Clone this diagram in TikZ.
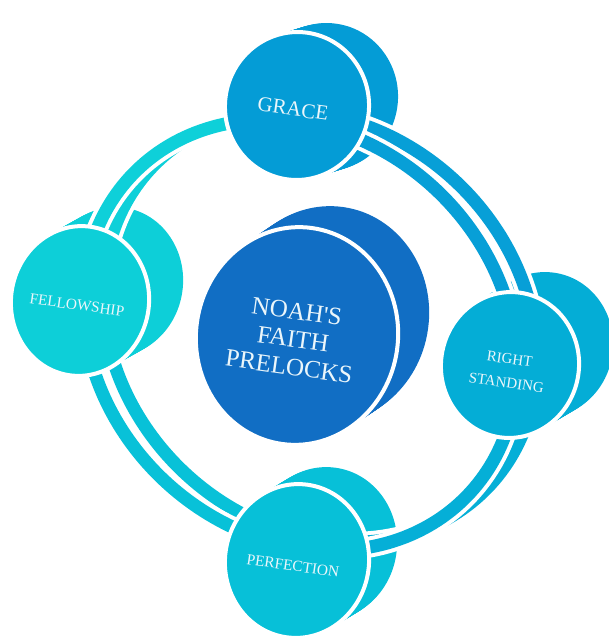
\documentclass[tikz,border=0pt]{standalone}
\usepackage{fontspec}
\setmainfont{Liberation Serif}
\usetikzlibrary{shapes.geometric}
\definecolor{cGrace}{HTML}{049CD6}
\definecolor{cHub}{HTML}{116EC4}
\definecolor{cFellow}{HTML}{0DCFD8}
\definecolor{cRight}{HTML}{04ADD6}
\definecolor{cPerf}{HTML}{07C0D8}
\definecolor{bLT}{HTML}{0ED0D9}
\definecolor{bTR}{HTML}{079FD7}
\definecolor{bRB}{HTML}{05AFD7}
\definecolor{bBL}{HTML}{08C1D8}
\definecolor{txt}{HTML}{EAF6FB}
\tikzset{
  face/.style={ellipse, draw=white, line width=4, inner sep=0pt, rotate=-8},
  lbl/.style={text=txt, rotate=-8, align=center, inner sep=1pt},
  casing/.style={white, line width=21, line join=round},
  band/.style={line width=13}
}
\begin{document}
\begin{tikzpicture}[x=1pt,y=1pt]
\useasboundingbox (0,0) rectangle (608,-637);
% cylinder bodies
\foreach \cx/\cy/\rx/\ry/\dx/\dy/\col in {
  297/106/72/74/29/-9/cGrace,
  297/336/101/109/31/-21/cHub,
  80/301/69/75/34/-19/cFellow,
  510/365/69/73/34/-20/cRight,
  297/561/72/77/28/-17/cPerf}{
  \foreach \k in {0,...,20}{
    \fill[\col, rotate around={-8:({\cx+\k/20*\dx},{-\cy-\k/20*\dy})}] ({\cx+\k/20*\dx},{-\cy-\k/20*\dy}) ellipse [x radius=\rx, y radius=\ry];
  }
}
% back ring (shifted up-right)
\begin{scope}[xshift=20, yshift=8]
\draw[casing] plot[domain=0:360, samples=181, variable=\t] ({300+168*cos(\t)+137.3*sin(\t)},{-335-160*cos(\t)+144.1*sin(\t)}) -- cycle;
\foreach \a/\b/\col in {129.3/219/bLT, 219/308.5/bBL, 308.5/399.7/bRB, 39.7/129.3/bTR}{
  \draw[band, \col] plot[domain=\a:\b, samples=60, variable=\t] ({300+168*cos(\t)+137.3*sin(\t)},{-335-160*cos(\t)+144.1*sin(\t)});
}
\end{scope}
% front ring
\draw[casing] plot[domain=0:360, samples=181, variable=\t] ({300+168*cos(\t)+137.3*sin(\t)},{-335-160*cos(\t)+144.1*sin(\t)}) -- cycle;
\foreach \a/\b/\col in {129.3/219/bLT, 219/308.5/bBL, 308.5/399.7/bRB, 39.7/129.3/bTR}{
  \draw[band, \col] plot[domain=\a:\b, samples=60, variable=\t] ({300+168*cos(\t)+137.3*sin(\t)},{-335-160*cos(\t)+144.1*sin(\t)});
}
% front faces
\node[face, fill=cGrace, minimum width=144, minimum height=148] (grace) at (297,-106) {};
\node[face, fill=cHub, minimum width=202, minimum height=218] (hub) at (297,-336) {};
\node[face, fill=cFellow, minimum width=138, minimum height=150] (fellow) at (80,-301) {};
\node[face, fill=cRight, minimum width=138, minimum height=146] (right) at (510,-365) {};
\node[face, fill=cPerf, minimum width=144, minimum height=154] (perf) at (297,-561) {};
% texts
\node[lbl, font=\fontsize{21}{25}\selectfont] (gracet) at (293,-109) {GRACE};
\node[lbl, font=\fontsize{25}{28}\selectfont] (hubt) at (293,-339) {NOAH\textquotesingle S\\FAITH\\PRELOCKS};
\node[lbl, font=\fontsize{15.3}{18}\selectfont] (fellowt) at (77,-305) {FELLOWSHIP};
\node[lbl, font=\fontsize{15}{24}\selectfont] (rightt) at (508,-371) {RIGHT\\STANDING};
\node[lbl, font=\fontsize{15.4}{18}\selectfont] (perft) at (293,-566) {PERFECTION};
\end{tikzpicture}
\end{document}
